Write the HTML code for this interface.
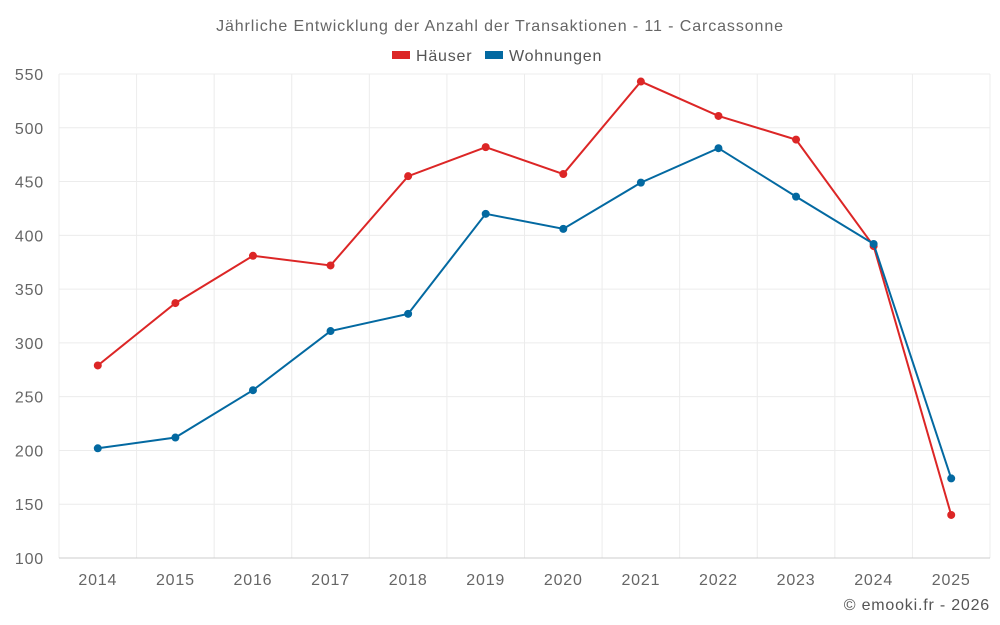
<!DOCTYPE html>
<html><head><meta charset="utf-8"><style>
body{margin:0;background:#fff;}
svg{display:block;font-family:"Liberation Sans",sans-serif;}
</style></head><body>
<svg id="chart" width="1000" height="625">
<text x="500" y="31" text-anchor="middle" font-size="16" letter-spacing="0.9" fill="#666">Jährliche Entwicklung der Anzahl der Transaktionen - 11 - Carcassonne</text>
<g>
<g><rect x="392" y="51" width="18" height="8" fill="#dc2626"/><text x="416" y="61" font-size="16" letter-spacing="0.8" fill="#555">Häuser</text></g>
<g><rect x="485" y="51" width="18" height="8" fill="#0369a1"/><text x="509" y="61" font-size="16" letter-spacing="0.8" fill="#555">Wohnungen</text></g>
</g>
<g id="grid"></g>
<g id="axes"></g>
<g id="series"></g>
<text x="990" y="610" text-anchor="end" font-size="16" letter-spacing="0.8" fill="#555">© emooki.fr - 2026</text>
</svg>
<script>
const years=[2014,2015,2016,2017,2018,2019,2020,2021,2022,2023,2024,2025];
const haeuser=[279,337,381,372,455,482,457,543,511,489,390,140];
const wohnungen=[202,212,256,311,327,420,406,449,481,436,392,174];
const yTicks=[100,150,200,250,300,350,400,450,500,550];
const L=59,R=990,T=74,B=558,ymin=100,ymax=550;
const band=(R-L)/years.length;
const x=i=>L+band*(i+0.5);
const y=v=>B-(v-ymin)/(ymax-ymin)*(B-T);
const NS="http://www.w3.org/2000/svg";
function mk(tag,attrs,parent){const e=document.createElementNS(NS,tag);for(const k in attrs)e.setAttribute(k,attrs[k]);parent.appendChild(e);return e;}
const grid=document.getElementById('grid'),axes=document.getElementById('axes'),series=document.getElementById('series');
yTicks.forEach(t=>{
 const g=mk('line',{x1:L,x2:R,y1:y(t),y2:y(t),stroke:'#ececec'},grid);
 
 
 const l=mk('text',{x:L-15,y:y(t)+6,'text-anchor':'end','font-size':16,'letter-spacing':0.8,fill:'#666'},axes);
 l.textContent=t;
 
 
});
for(let i=0;i<=years.length;i++){
 const g=mk('line',{x1:L+band*i,x2:L+band*i,y1:T,y2:B,stroke:'#ececec'},grid);
 
 
}
years.forEach((yr,i)=>{
 const l=mk('text',{x:x(i),y:B+27,'text-anchor':'middle','font-size':16,'letter-spacing':0.8,fill:'#666'},axes);
 l.textContent=yr;
 
 
});
const ax=mk('line',{x1:L,x2:R,y1:B,y2:B,stroke:'#ccc'},axes);


function draw(vals,color,name){
 const p=mk('polyline',{points:vals.map((v,i)=>x(i)+','+y(v)).join(' '),fill:'none',stroke:color,'stroke-width':2},series);
 
 
 vals.forEach((v,i)=>{
  const c=mk('circle',{cx:x(i),cy:y(v),r:4,fill:color},series);
  
  
 });
}
draw(haeuser,'#dc2626','haeuser');
draw(wohnungen,'#0369a1','wohnungen');
</script>
</body></html>
